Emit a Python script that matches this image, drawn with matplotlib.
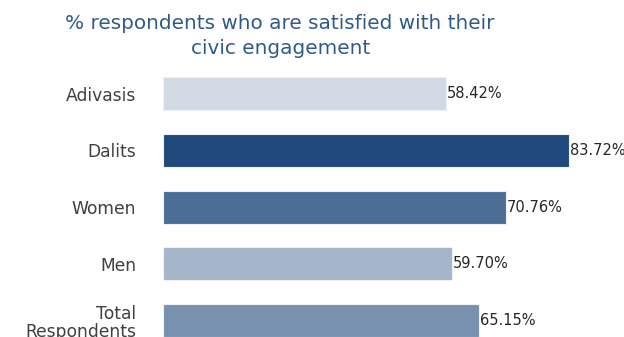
import matplotlib.pyplot as plt

# satisfaction with civic engagement, by group
categories = ['Adivasis', 'Dalits', 'Women', 'Men', 'Total\nRespondents']
values = [58.42, 83.72, 70.76, 59.70, 65.15]
colors = ['#D1DAE4', '#1F497D', '#4A6E96', '#A5B6CB', '#7891AF']

plt.rcParams['font.family'] = ['DejaVu Sans']

fig = plt.figure(figsize=(6.24, 3.37), dpi=100)
ax = fig.add_axes([0.2605, -0.0356, 0.739, 0.842])

y = list(range(len(categories)))
bars = ax.barh(y, values, height=0.58, color=colors, edgecolor='#EEF1F5', linewidth=0.8)

for bar, val in zip(bars, values):
    ax.text(bar.get_width() + 0.2, bar.get_y() + bar.get_height() / 2,
            f'{val:.2f}%', ha='left', va='center', fontsize=10.5, color='#262626')

ax.set_yticks(y)
ax.set_yticklabels(categories, fontsize=12.3, color='#404040', ha='right',
                   linespacing=1.05)
ax.tick_params(axis='y', length=0, pad=19)
ax.set_xticks([])
ax.set_xlim(0, 95)
ax.set_ylim(len(categories) - 0.5, -0.5)
for s in ax.spines.values():
    s.set_visible(False)

fig.text(0.449, 0.893, '% respondents who are satisfied with their\ncivic engagement',
         ha='center', va='center', fontsize=14.4, color='#2E5A8A', linespacing=1.4)

fig.savefig('out.png', dpi=100)
